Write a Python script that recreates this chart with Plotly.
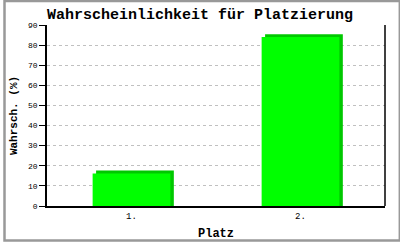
import plotly.graph_objects as go

categories = ["1.", "2."]
values = [16.2, 84.0]
y_ticks = [0, 10, 20, 30, 40, 50, 60, 70, 80, 90]

W, H = 400, 250
ML, MR, MT, MB = 43, 15, 25, 36
pw, ph = W - ML - MR, H - MT - MB

bar_w = 0.46
dx = 3.5 / (pw / 2)
dy = 3 / (ph / 90)

fig = go.Figure()
fig.add_trace(go.Bar(
    x=categories, y=[v + dy for v in values], width=bar_w, offset=-bar_w / 2 + dx,
    marker=dict(color="#00c800", line=dict(width=0)), hoverinfo="skip"))
fig.add_trace(go.Bar(
    x=categories, y=values, width=bar_w, offset=-bar_w / 2,
    marker=dict(color="#00ff00", line=dict(width=0))))

mono = "Liberation Mono, DejaVu Sans Mono, monospace"
fig.update_layout(
    width=W, height=H, autosize=False, barmode="overlay", showlegend=False,
    margin=dict(l=ML, r=MR, t=MT, b=MB),
    paper_bgcolor="white", plot_bgcolor="white",
    title=dict(text="Wahrscheinlichkeit für Platzierung", x=0.5, xanchor="center",
               y=1 - 14 / H, yanchor="middle",
               font=dict(family=mono, size=15, color="black", weight="bold")),
    xaxis=dict(range=[-0.5, 1.5], showgrid=False, showline=True, linecolor="black",
               linewidth=1.5, ticks="", zeroline=False,
               tickfont=dict(family=mono, size=9, color="black"),
               title=dict(text="Platz", standoff=8,
                          font=dict(family=mono, size=12, color="black", weight="bold"))),
    yaxis=dict(range=[0, 90], tickvals=y_ticks, showgrid=True, gridcolor="#c0c0c0",
               griddash="3px,3px", gridwidth=1, showline=True, linecolor="black",
               linewidth=1.5, ticks="outside", ticklen=6, tickcolor="black",
               mirror=False, zeroline=False,
               tickfont=dict(family=mono, size=8, color="black"),
               title=dict(text="Wahrsch. (%)", standoff=8,
                          font=dict(family=mono, size=11, color="black", weight="bold"))),
)
fig.add_shape(type="line", xref="paper", yref="paper", x0=1, x1=1, y0=0, y1=1,
              line=dict(color="black", width=1.5))
fig.add_shape(type="rect", xref="paper", yref="paper",
              x0=-ML / pw, x1=1 + MR / pw, y0=-MB / ph, y1=1 + MT / ph,
              line=dict(color="#999999", width=2.5), layer="above")

html = fig.to_html(config={"responsive": False}, full_html=True)
html = html.replace("<head>", "<head><style>html,body{margin:0;padding:0;overflow:hidden}</style>", 1)
with open("out.html", "w", encoding="utf-8") as f:
    f.write(html)
